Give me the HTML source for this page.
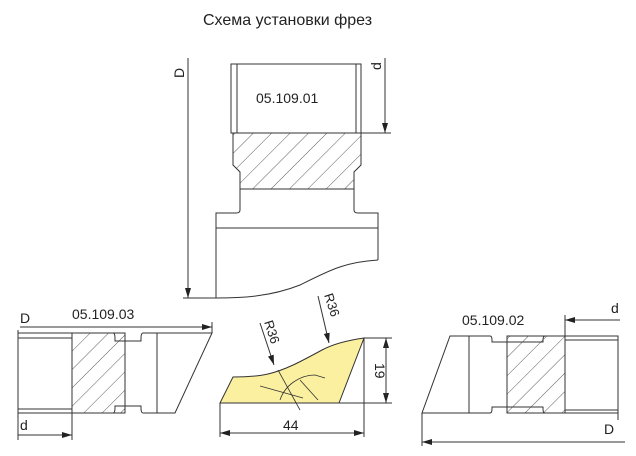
<!DOCTYPE html>
<html><head><meta charset="utf-8"><style>
html,body{margin:0;padding:0;background:#fff;}
svg{display:block;}
text{font-family:"Liberation Sans",sans-serif;fill:#222;}
</style></head><body>
<svg width="636" height="456" viewBox="0 0 636 456" xmlns="http://www.w3.org/2000/svg">
<defs>
<pattern id="h" patternUnits="userSpaceOnUse" width="13" height="13" patternTransform="rotate(45)">
<line x1="0" y1="0" x2="0" y2="13" stroke="#333" stroke-width="0.8"/>
</pattern>
<marker id="a" markerWidth="10" markerHeight="6" refX="10" refY="3" orient="auto" markerUnits="userSpaceOnUse">
<path d="M0,0 L10,3 L0,6 z" fill="#222"/>
</marker>
</defs>
<g stroke="#333" stroke-width="1" fill="none">
<text x="203" y="25" font-size="16" stroke="none">Схема установки фрез</text>

<!-- top part -->
<rect x="231" y="64" width="130" height="69"/>
<line x1="237" y1="64" x2="237" y2="133"/>
<line x1="356" y1="64" x2="356" y2="133"/>
<path d="M233,133 L361,133 L361,165 L354,172 L354,189 L240,189 L240,172 L233,165 Z" fill="url(#h)"/>
<line x1="240" y1="189" x2="240" y2="210"/>
<path d="M240,210 Q240,213 236,213 L216,213 L216,298"/>
<line x1="354" y1="189" x2="354" y2="210"/>
<path d="M354,210 Q354,213 358,213 L378,213 L378,260"/>
<line x1="216" y1="228" x2="378" y2="228"/>
<path d="M378,260 C345,262 330,270 300,285 C270,297 240,298 216,298"/>
<line x1="183" y1="298" x2="216" y2="298"/>
<line x1="188" y1="58" x2="188" y2="298" marker-end="url(#a)"/>
<text x="0" y="0" font-size="14" stroke="none" transform="translate(184,78) rotate(-90)">D</text>
<line x1="361" y1="133" x2="391" y2="133"/>
<line x1="385" y1="58" x2="385" y2="133" marker-end="url(#a)"/>
<text x="0" y="0" font-size="14" stroke="none" transform="translate(381,70) rotate(-90)">d</text>
<text x="256" y="103" font-size="14" stroke="none">05.109.01</text>

<!-- bottom-left -->
<text x="20" y="323" font-size="14" stroke="none">D</text>
<text x="72" y="319" font-size="14" stroke="none">05.109.03</text>
<line x1="20" y1="327" x2="212" y2="327" marker-end="url(#a)"/>
<line x1="18" y1="330" x2="18" y2="440"/>
<line x1="212" y1="322" x2="212" y2="333"/>
<rect x="18" y="333" width="54" height="80"/>
<line x1="18" y1="338" x2="72" y2="338"/>
<line x1="18" y1="409" x2="72" y2="409"/>
<rect x="72" y="333" width="53" height="80" fill="url(#h)"/>
<path d="M72,333 L113,333 Q115,333 115,338 L115,341 L141,341 L141,338 Q141,333 143,333 L212,333 L175,413 L143,413 Q141,413 141,408 L141,406 L115,406 L115,408 Q115,413 113,413 L72,413"/>
<line x1="125" y1="341" x2="125" y2="406"/>
<line x1="157" y1="333" x2="157" y2="413"/>
<line x1="72" y1="413" x2="72" y2="440"/>
<text x="20" y="430" font-size="14" stroke="none">d</text>
<line x1="18" y1="435" x2="72" y2="435" marker-end="url(#a)"/>

<!-- middle profile -->
<path d="M220,403 L339,403 L364,338 C350,340 335,343 322,350 C300,362 285,370 268,374 C255,377 240,377 233,377 Z" fill="#fbf0a0" stroke="#333"/>
<path d="M260,386 L303,398 M278,370 L300,410 M280,400 C285,385 300,375 315,375 L325,378 M300,380 L318,400" stroke="#333" stroke-width="0.8"/>
<line x1="260" y1="323" x2="274" y2="365" marker-end="url(#a)"/>
<text x="0" y="0" font-size="13" stroke="none" transform="translate(264,322) rotate(72)">R36</text>
<line x1="318" y1="296" x2="329" y2="343" marker-end="url(#a)"/>
<text x="0" y="0" font-size="13" stroke="none" transform="translate(324,295) rotate(72)">R36</text>
<line x1="364" y1="338" x2="392" y2="338"/>
<line x1="339" y1="403" x2="392" y2="403"/>
<line x1="386" y1="345" x2="386" y2="338" marker-end="url(#a)"/>
<line x1="386" y1="396" x2="386" y2="403" marker-end="url(#a)"/>
<line x1="386" y1="345" x2="386" y2="396"/>
<text x="0" y="0" font-size="14" stroke="none" transform="translate(375,363) rotate(90)">19</text>
<line x1="220" y1="403" x2="220" y2="437"/>
<line x1="364" y1="338" x2="364" y2="437"/>
<line x1="292" y1="433" x2="220" y2="433" marker-end="url(#a)"/>
<line x1="292" y1="433" x2="364" y2="433" marker-end="url(#a)"/>
<text x="283" y="430" font-size="14" stroke="none">44</text>

<!-- bottom-right -->
<text x="611" y="313" font-size="14" stroke="none">d</text>
<text x="462" y="325" font-size="14" stroke="none">05.109.02</text>
<line x1="565" y1="315" x2="565" y2="340"/>
<line x1="620" y1="320" x2="565" y2="320" marker-end="url(#a)"/>
<rect x="565" y="336" width="53" height="77"/>
<line x1="565" y1="340" x2="618" y2="340"/>
<line x1="565" y1="410" x2="618" y2="410"/>
<rect x="507" y="336" width="58" height="77" fill="url(#h)"/>
<path d="M565,336 L545,336 Q543,336 543,340 L543,342 L492,342 L492,340 Q492,336 490,336 L450,336 L422,413 L490,413 Q492,413 492,409 L492,407 L543,407 L543,409 Q543,413 545,413 L565,413"/>
<line x1="469" y1="336" x2="469" y2="413"/>
<line x1="422" y1="413" x2="422" y2="446"/>
<line x1="618" y1="413" x2="618" y2="420"/>
<text x="604" y="434" font-size="14" stroke="none">D</text>
<line x1="625" y1="442" x2="422" y2="442" marker-end="url(#a)"/>
</g>
</svg>
</body></html>
